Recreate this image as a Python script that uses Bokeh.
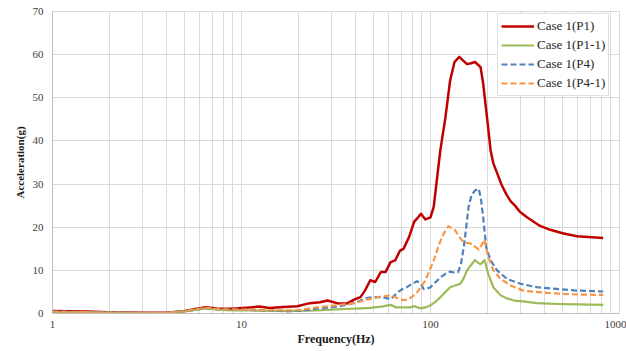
from bokeh.plotting import figure
from bokeh.models import Range1d, FixedTicker, PrintfTickFormatter, Legend, LegendItem
from bokeh.embed import file_html
from bokeh.resources import INLINE

# ---- data ----
freq_p1 = [1, 1.5, 2, 3, 4, 5, 6, 6.5, 7.5, 9, 11, 12.5, 14, 16.7, 19.7, 23, 26, 28.5, 32, 36,
           39.4, 42.6, 45, 48, 51, 54.6, 57.8, 61.5, 65, 69, 72, 77, 82, 86, 89, 94, 100, 104,
           108, 112.7, 120, 127, 134, 142, 149, 156, 164, 172, 184, 190, 199, 208, 215, 225, 238,
           252, 266, 280, 297, 324, 380, 430, 500, 595, 820]
acc_p1 = [0.6, 0.45, 0.3, 0.15, 0.2, 0.6, 1.2, 1.45, 1.1, 1.1, 1.4, 1.6, 1.25, 1.5, 1.7, 2.4, 2.6,
          3.0, 2.4, 2.3, 3.2, 3.8, 5.3, 7.7, 7.3, 9.6, 9.6, 11.9, 12.3, 14.6, 15.0, 17.7, 21.3,
          22.3, 23.1, 21.8, 22.3, 24.7, 30.9, 37.8, 45.5, 54.0, 58.3, 59.5, 58.6, 57.8, 58.0,
          58.3, 57.1, 53.3, 45.5, 37.8, 34.8, 32.6, 29.8, 27.6, 26.0, 25.0, 23.6, 22.3, 20.3,
          19.4, 18.6, 17.9, 17.5]

freq_p11 = [1, 1.5, 2, 3, 4, 5, 6, 6.5, 7.5, 9, 11, 15, 20, 25, 30, 37.7, 43, 48, 55, 61.5, 66,
            72, 78, 82, 88, 94, 100, 106, 113, 120, 127, 135, 144, 150, 156, 163, 172, 178, 184,
            189, 193, 202, 215, 235, 254, 277, 310, 365, 470, 600, 820]
acc_p11 = [0.35, 0.3, 0.2, 0.1, 0.15, 0.5, 1.0, 1.2, 0.9, 0.7, 0.7, 0.6, 0.6, 0.7, 0.9, 1.1, 1.2,
           1.3, 1.6, 2.0, 1.4, 1.4, 1.4, 1.7, 1.2, 1.4, 1.9, 2.7, 3.8, 5.0, 6.1, 6.5, 6.9, 8.2,
           10.0, 11.1, 12.4, 11.8, 11.4, 11.9, 12.4, 9.2, 6.1, 4.2, 3.5, 3.0, 2.8, 2.4, 2.2, 2.1,
           2.0]

freq_p4 = [1, 1.5, 2, 3, 4, 5, 6, 6.5, 7.5, 9, 11, 14, 17, 20, 25, 32, 37.7, 42, 46, 50, 54.6,
           58, 61.5, 66.6, 70, 75, 80, 85, 89, 92, 96, 100, 106, 113, 120, 127, 133, 140, 145,
           150, 155, 159, 165, 172, 180, 185, 190, 197, 208, 225, 254, 300, 365, 430, 600, 820]
acc_p4 = [0.45, 0.35, 0.25, 0.1, 0.15, 0.5, 1.0, 1.25, 1.0, 0.9, 0.85, 0.7, 0.5, 0.6, 1.1, 1.6,
          2.2, 2.9, 3.6, 3.8, 3.8, 3.6, 3.3, 4.8, 5.5, 6.1, 6.9, 7.5, 6.8, 5.7, 5.8, 6.1, 7.2,
          8.4, 9.2, 9.7, 9.5, 9.6, 11.5, 15.4, 20.5, 24.7, 27.5, 28.5, 28.9, 26.5, 22.3, 15.4,
          12.3, 10.0, 8.0, 6.9, 6.1, 5.8, 5.3, 5.1]

freq_p41 = [1, 1.5, 2, 3, 4, 5, 6, 6.5, 7.5, 9, 11, 14, 17, 20, 25, 32, 39.4, 46, 54.6, 61.5,
            66.6, 72, 76, 81.6, 85, 89, 94, 100, 104, 110, 115, 120, 124, 130, 135, 141, 147,
            155, 163, 172, 180, 187, 193, 202, 215, 235, 266, 310, 430, 600, 820]
acc_p41 = [0.4, 0.3, 0.2, 0.1, 0.15, 0.5, 1.1, 1.3, 1.0, 0.9, 0.9, 0.8, 0.7, 0.8, 1.4, 1.9, 2.4,
           3.2, 3.9, 4.2, 3.6, 3.1, 3.2, 4.2, 4.9, 6.1, 7.7, 10.5, 12.3, 15.5, 17.7, 19.3, 20.2,
           19.8, 19.3, 18.0, 16.9, 16.4, 16.2, 15.5, 14.8, 16.0, 17.1, 13.1, 10.0, 8.0, 6.5, 5.3,
           4.7, 4.4, 4.3]

series_names = ["Case 1(P1)", "Case 1(P1-1)", "Case 1(P4)", "Case 1(P4-1)"]
x_major = [1, 10, 100, 1000]
x_minor = [2, 3, 4, 5, 6, 7, 8, 9, 20, 30, 40, 50, 60, 70, 80, 90,
           200, 300, 400, 500, 600, 700, 800, 900]
y_ticks = [0, 10, 20, 30, 40, 50, 60, 70]

SERIF = "Liberation Serif"
GRID = "#d9d9d9"

p = figure(width=626, height=351, x_axis_type="log", output_backend="svg",
           toolbar_location=None, x_range=Range1d(1, 1000), y_range=Range1d(0, 70),
           min_border_left=52, min_border_right=7, min_border_top=11, min_border_bottom=38)
p.outline_line_color = GRID
p.background_fill_color = "white"
p.border_fill_color = "white"

p.xaxis.ticker = FixedTicker(ticks=x_major, minor_ticks=x_minor)
p.xaxis.formatter = PrintfTickFormatter(format="%d")
p.yaxis.ticker = FixedTicker(ticks=y_ticks)

for ax in (p.xaxis[0], p.yaxis[0]):
    ax.major_tick_out = 0
    ax.major_tick_in = 0
    ax.minor_tick_out = 0
    ax.minor_tick_in = 0
    ax.axis_line_color = "#bfbfbf"
    ax.major_label_text_font = SERIF
    ax.major_label_text_font_size = "11px"
    ax.major_label_text_color = "#404040"
    ax.axis_label_text_font = SERIF
    ax.axis_label_text_font_style = "bold"
    ax.axis_label_text_color = "#1a1a1a"

p.xaxis.axis_label = "Frequency(Hz)"
p.xaxis.axis_label_text_font_size = "12px"
p.xaxis.major_label_standoff = 7
p.xaxis.axis_label_standoff = 1
p.yaxis.axis_label = "Acceleration(g)"
p.yaxis.axis_label_text_font_size = "11px"
p.yaxis.major_label_standoff = 9
p.yaxis.axis_label_standoff = 4

p.xgrid.grid_line_color = GRID
p.xgrid.minor_grid_line_color = GRID
p.ygrid.grid_line_color = GRID

r1 = p.line(freq_p1, acc_p1, line_color="#C00000", line_width=2.5, line_join="round")
r2 = p.line(freq_p11, acc_p11, line_color="#9BBB59", line_width=2.2, line_join="round")
r3 = p.line(freq_p4, acc_p4, line_color="#4F81BD", line_width=2.2, line_dash="6 3",
            line_join="round")
r4 = p.line(freq_p41, acc_p41, line_color="#F79646", line_width=2.2, line_dash="6 3",
            line_join="round")

legend = Legend(items=[LegendItem(label=n, renderers=[r]) for n, r in
                       zip(series_names, [r1, r2, r3, r4])],
                location=(445, 217))
legend.label_text_font = SERIF
legend.label_text_font_size = "13px"
legend.label_text_color = "#262626"
legend.glyph_width = 33
legend.glyph_height = 18
legend.label_height = 18
legend.spacing = 1
legend.padding = 3
legend.margin = 0
legend.label_standoff = 3
legend.border_line_color = "#bfbfbf"
legend.background_fill_color = "white"
legend.background_fill_alpha = 1.0
p.add_layout(legend)

open("out.html", "w").write(file_html(p, INLINE))
